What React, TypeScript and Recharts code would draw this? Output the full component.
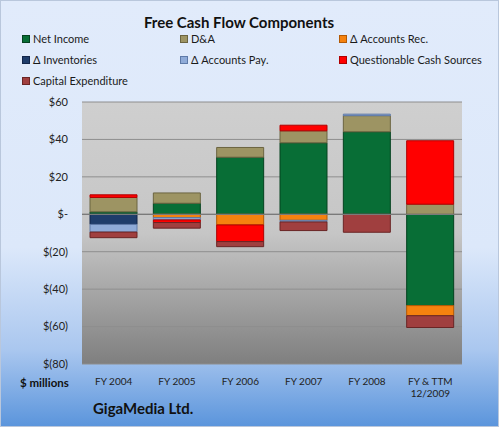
import React from 'react'
import { BarChart, Bar, XAxis, YAxis, CartesianGrid, ReferenceLine } from 'recharts'

const categories = ['FY 2004', 'FY 2005', 'FY 2006', 'FY 2007', 'FY 2008', 'FY & TTM\n12/2009']
const netIncome = [1.3, 5.9, 30.5, 38.2, 44.1, -48.8]
const depAmort = [7.7, 5.5, 5.2, 6.4, 8.6, 5.4]
const accountsRec = [0, -1.8, -5.7, -3.2, 0, -5.4]
const inventories = [-5.4, 0, 0, 0, 0, 0]
const accountsPay = [-4.1, -1.2, 0, -0.9, 0.8, 0]
const questionable = [1.4, -1.4, -8.9, 3.0, 0, 33.9]
const capex = [-3.0, -3.0, -2.7, -4.6, -9.6, -6.3]
const yTicks = [60, 40, 20, 0, -20, -40, -60, -80]

const series = [
  { key: 'ni', name: 'Net Income', values: netIncome, fill: '#086e36', stroke: '#04421f' },
  { key: 'da', name: 'D&A', values: depAmort, fill: '#9d9463', stroke: '#6b6440' },
  { key: 'ar', name: 'Δ Accounts Rec.', values: accountsRec, fill: '#f5820f', stroke: '#b35a05' },
  { key: 'inv', name: 'Δ Inventories', values: inventories, fill: '#1f3d6b', stroke: '#13264a' },
  { key: 'ap', name: 'Δ Accounts Pay.', values: accountsPay, fill: '#8fabd8', stroke: '#5e7aa8' },
  { key: 'qcs', name: 'Questionable Cash Sources', values: questionable, fill: '#ff0000', stroke: '#b00000' },
  { key: 'capex', name: 'Capital Expenditure', values: capex, fill: '#a03f3f', stroke: '#6a2525' },
]

const data = categories.map((c, i) => {
  const row: Record<string, string | number> = { name: c }
  series.forEach((s) => (row[s.key] = s.values[i]))
  return row
})

const font = 'Lato, "Open Sans", sans-serif'

const fmtY = (v: number) => (v === 0 ? '$-' : v > 0 ? `$${v}` : `$(${-v})`)

const CatTick = ({ x, y, payload }: any) => {
  const lines = String(payload.value).split('\n')
  return (
    <text x={x} y={y} textAnchor="middle" fontSize={10} fill="#222" fontFamily={font}>
      {lines.map((l, i) => (
        <tspan key={i} x={x} dy={i === 0 ? '0.71em' : 12}>
          {l}
        </tspan>
      ))}
    </text>
  )
}

const legendPos = [
  [21, 38], [179, 38], [338, 38],
  [21, 59], [179, 59], [338, 59],
  [21, 80],
]

const LegendBox = () => (
  <div style={{ position: 'absolute', left: 0, top: 0, width: 499, height: 100, pointerEvents: 'none' }}>
    {series.map((s, i) => (
      <div
        key={s.key}
        style={{
          position: 'absolute',
          left: legendPos[i][0],
          top: legendPos[i][1] - 7,
          display: 'flex',
          alignItems: 'center',
          fontFamily: font,
          fontSize: 11,
          color: '#1a1a1a',
          whiteSpace: 'nowrap',
        }}
      >
        <span
          style={{
            display: 'inline-block',
            width: 6,
            height: 6,
            background: s.fill,
            border: `1px solid ${s.stroke}`,
            marginRight: 3,
          }}
        />
        {s.name}
      </div>
    ))}
  </div>
)

export default function App() {
  return (
    <div
      style={{
        position: 'absolute',
        left: 0,
        top: 0,
        width: 497,
        height: 425,
        border: '1px solid #b9c7dc',
        background: 'linear-gradient(to bottom, #e1ebfb 0%, #dce8fa 58%, #aac7ef 82%, #5b95dc 100%)',
        overflow: 'hidden',
      }}
    >
      <svg width={0} height={0} style={{ position: 'absolute' }}>
        <defs>
          <linearGradient id="plotBg" x1="0" y1="0" x2="0" y2="1">
            <stop offset="0%" stopColor="#cfcfcf" />
            <stop offset="50%" stopColor="#c6c6c6" />
            <stop offset="100%" stopColor="#7f7f7f" />
          </linearGradient>
        </defs>
      </svg>
      <div
        style={{
          position: 'absolute',
          left: 0,
          top: 12,
          width: 476,
          textAlign: 'center',
          fontFamily: font,
          fontWeight: 700,
          fontSize: 15,
          color: '#111',
        }}
      >
        Free Cash Flow Components
      </div>
      <div style={{ position: 'absolute', top: -1, left: -1 }}>
        <BarChart
          width={499}
          height={427}
          data={data}
          stackOffset="sign"
          margin={{ top: 102, right: 37, bottom: 0, left: 0 }}
        >
          <CartesianGrid vertical={false} horizontal stroke="#8e8e8e" fill="url(#plotBg)" fillOpacity={1} />
          <XAxis
            dataKey="name"
            height={63}
            axisLine={false}
            tickLine={false}
            tickSize={0}
            tickMargin={14}
            interval={0}
            tick={<CatTick />}
          />
          <YAxis
            width={82}
            domain={[-80, 60]}
            ticks={yTicks}
            axisLine={false}
            tickLine={false}
            tickSize={0}
            tickMargin={14}
            tickFormatter={fmtY}
            tick={{ fontSize: 11, fill: '#222', fontFamily: font }}
          />
          {series.map((s) => (
            <Bar
              key={s.key}
              dataKey={s.key}
              name={s.name}
              stackId="a"
              fill={s.fill}
              stroke={s.stroke}
              strokeWidth={1}
              barSize={47}
              isAnimationActive={false}
            />
          ))}
          <ReferenceLine y={0} stroke="#7a7a7a" strokeWidth={1.2} />
        </BarChart>
      </div>
      <LegendBox />
      <div
        style={{
          position: 'absolute',
          left: 19,
          top: 375,
          fontFamily: font,
          fontWeight: 700,
          fontSize: 11.5,
          color: '#111',
        }}
      >
        $ millions
      </div>
      <div
        style={{
          position: 'absolute',
          left: 92,
          top: 398,
          fontFamily: font,
          fontWeight: 700,
          fontSize: 15,
          color: '#111',
        }}
      >
        GigaMedia Ltd.
      </div>
    </div>
  )
}
